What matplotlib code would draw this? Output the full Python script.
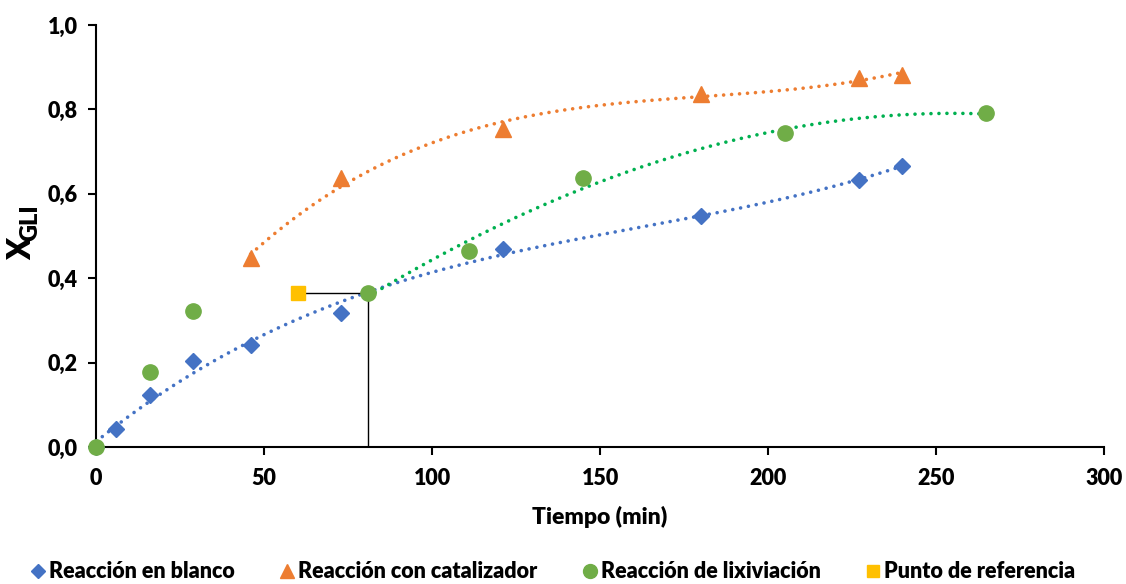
import numpy as np
import matplotlib
matplotlib.use("Agg")
import matplotlib.pyplot as plt
from matplotlib.ticker import FuncFormatter, MultipleLocator
from matplotlib.lines import Line2D

# Data
t_blanco = [0, 6, 16, 29, 46, 73, 121, 180, 227, 240]
x_blanco = [0.0, 0.043, 0.123, 0.204, 0.242, 0.318, 0.469, 0.547, 0.633, 0.666]
t_cat = [46, 73, 121, 180, 227, 240]
x_cat = [0.448, 0.637, 0.754, 0.836, 0.874, 0.882]
t_lix = [0, 16, 29, 81, 111, 145, 205, 265]
x_lix = [0.0, 0.178, 0.322, 0.365, 0.464, 0.637, 0.744, 0.791]
t_ref = [60]
x_ref = [0.365]
labels = ["Reacción en blanco", "Reacción con catalizador",
          "Reacción de lixiviación", "Punto de referencia"]

plt.rcParams['font.family'] = ['Lato', 'DejaVu Sans']

BLUE = '#4472C4'
ORANGE = '#ED7D31'
GREEN = '#70AD47'
GREEN_T = '#00B050'
YELLOW = '#FFC000'

fig = plt.figure(figsize=(11.26, 5.84), dpi=100)
ax = fig.add_axes([0.0853, 0.2346, 0.8952, 0.7226])

# Trendlines (polynomial, order 3)
def trend(tt, xx, color, tmin, tmax):
    c = np.polyfit(tt, xx, 3)
    xs = np.linspace(tmin, tmax, 300)
    ax.plot(xs, np.polyval(c, xs), color=color, lw=2.6, ls=(0, (0.01, 2.2)),
            dash_capstyle='round', zorder=2)

trend(t_blanco, x_blanco, BLUE, 0, 240)
trend(t_cat, x_cat, ORANGE, 46, 240)
tl = [t for t in t_lix if t >= 81]
xl = [x for t, x in zip(t_lix, x_lix) if t >= 81]
trend(tl, xl, GREEN_T, 81, 265)

# Reference lines
ax.plot([t_ref[0], t_lix[3]], [x_ref[0], x_lix[3]], color='black', lw=1.0, zorder=3)
ax.plot([t_lix[3], t_lix[3]], [x_lix[3], 0], color='black', lw=1.0, zorder=3)

ax.plot(t_blanco, x_blanco, 'D', color=BLUE, ms=8, ls='none', zorder=4, clip_on=False)
ax.plot(t_cat, x_cat, '^', color=ORANGE, ms=11, ls='none', zorder=4, clip_on=False)
ax.plot(t_lix, x_lix, 'o', color=GREEN, ms=11, ls='none', zorder=5, clip_on=False)
ax.plot(t_ref, x_ref, 's', color=YELLOW, ms=10, ls='none', zorder=5, clip_on=False)

ax.set_xlim(0, 300)
ax.set_ylim(0, 1.0)
ax.xaxis.set_major_locator(MultipleLocator(50))
ax.yaxis.set_major_locator(MultipleLocator(0.2))
ax.yaxis.set_major_formatter(FuncFormatter(lambda v, p: f"{v:.1f}".replace('.', ',')))
ax.xaxis.set_major_formatter(FuncFormatter(lambda v, p: f"{v:.0f}"))
for s in ['top', 'right']:
    ax.spines[s].set_visible(False)
for s in ['left', 'bottom']:
    ax.spines[s].set_linewidth(1.5)
ax.tick_params(axis='both', direction='out', length=6, width=1.5, labelsize=15.5)
for lab in ax.get_xticklabels() + ax.get_yticklabels():
    lab.set_fontweight('heavy')
ax.tick_params(axis='x', pad=9)
ax.tick_params(axis='y', pad=7)

ax.set_xlabel("Tiempo (min)", fontsize=16.5, fontweight='heavy', labelpad=12)

# Y label: X with subscript GLI
fig.text(22 / 1126, 1 - 249 / 584, "X", rotation=90, fontsize=23, fontweight='heavy',
         ha='center', va='center')
fig.text(30 / 1126, 1 - 223 / 584, "GLI", rotation=90, fontsize=17, fontweight='heavy',
         ha='center', va='center')

handles = [
    Line2D([], [], marker='D', color=BLUE, ls='none', ms=7.5),
    Line2D([], [], marker='^', color=ORANGE, ls='none', ms=10),
    Line2D([], [], marker='o', color=GREEN, ls='none', ms=10),
    Line2D([], [], marker='s', color=YELLOW, ls='none', ms=9),
]
leg = fig.legend(handles, labels, loc='lower center', bbox_to_anchor=(0.49, -0.03),
                 ncol=4, frameon=False, prop={'size': 15.5, 'weight': 'heavy'},
                 handletextpad=0.05, columnspacing=2.0, handlelength=0.9)

fig.savefig("out.png", dpi=100)
